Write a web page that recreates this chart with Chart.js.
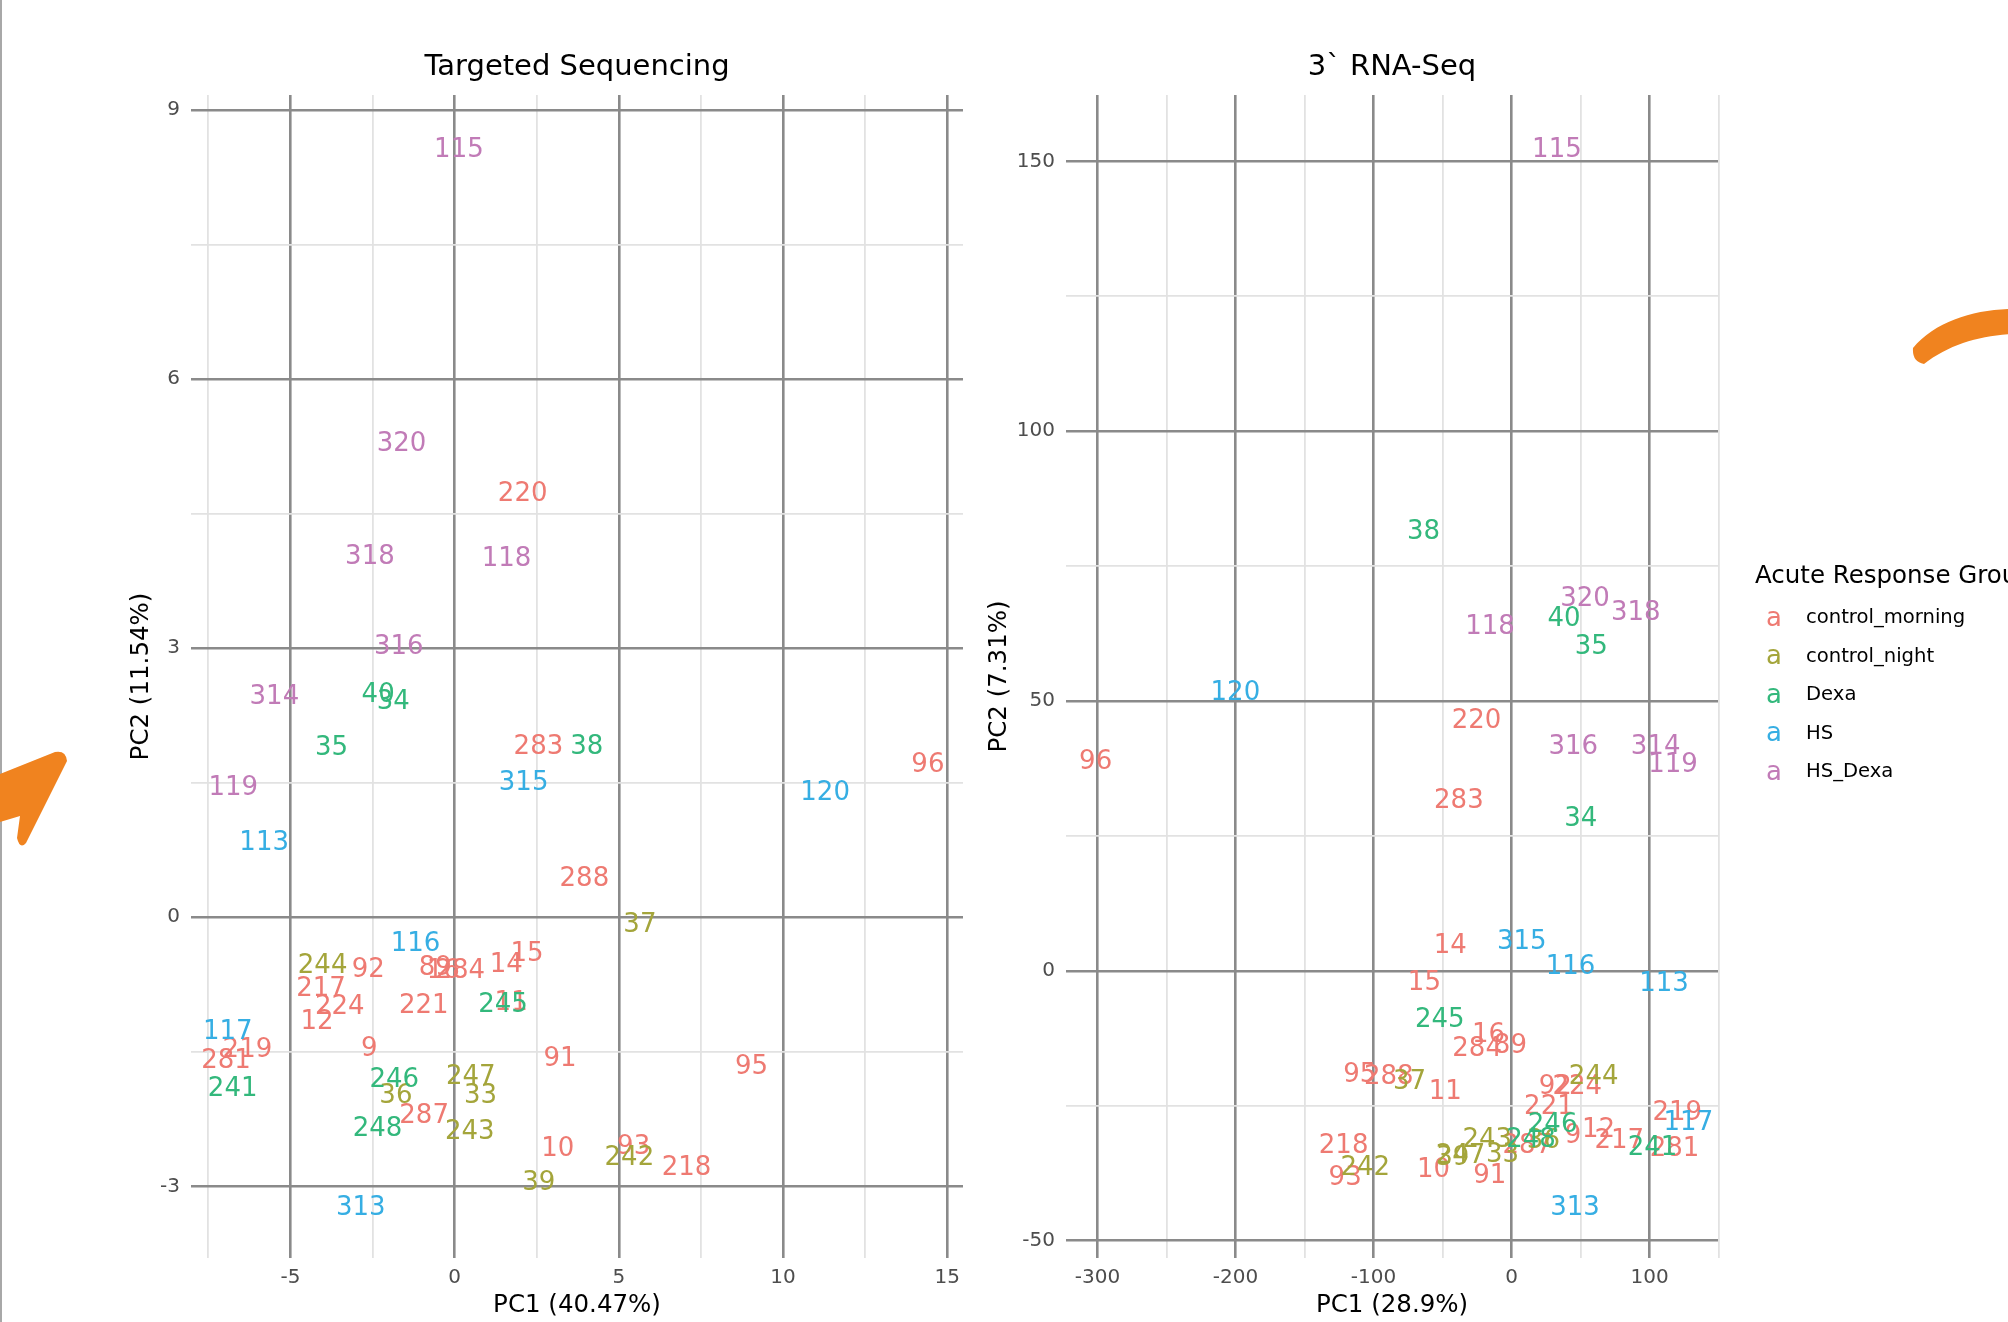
<!DOCTYPE html>
<html>
<head>
<meta charset="utf-8">
<script src="https://cdn.jsdelivr.net/npm/chart.js@4.4.1/dist/chart.umd.min.js"></script>
<style>
  body { margin: 0; width: 2008px; height: 1322px; overflow: hidden; background: #fff; position: relative; font-family: "DejaVu Sans", sans-serif; }
  #ts { position: absolute; left: 0; top: 0; }
  #rna { position: absolute; left: 980px; top: 0; }
  #edge { position: absolute; left: 0; top: 0; width: 2px; height: 1322px; background: #a8a8a8; }
  #legend { position: absolute; left: 0; top: 0; white-space: nowrap; }
  #legend div { position: absolute; white-space: nowrap; line-height: 30px; }
  #deco { position: absolute; left: 0; top: 0; pointer-events: none; }
</style>
</head>
<body>
<canvas id="ts" width="980" height="1322"></canvas>
<canvas id="rna" width="1028" height="1322"></canvas>
<div id="legend"></div>
<div id="edge"></div>
<svg id="deco" width="2008" height="1322">
  <path d="M0,774 L55,752 Q66,750 67,761 L26,843 Q20,850 17,838 L20,816 L0,822 Z" fill="#f0831f"/>
  <path d="M1913,348 C1935,322 1972,310 2010,309 L2010,334 C1978,336 1948,345 1924,364 Q1912,362 1913,348 Z" fill="#f0831f"/>
</svg>
<script>
const groups = ['control_morning', 'control_night', 'Dexa', 'HS', 'HS_Dexa'];
const groupColors = ['#ee7a72', '#a4a53b', '#33b87c', '#36aee3', '#c17bb7'];

// sample labels per group
const idsMorning = ['220', '283', '96', '288', '92', '89', '16', '284', '14', '15', '11', '217', '224', '221', '12', '9', '219', '281', '91', '95', '287', '10', '93', '218'];
const idsNight = ['244', '37', '247', '36', '33', '243', '39', '242'];
const idsDexa = ['40', '34', '35', '38', '245', '241', '246', '248'];
const idsHS = ['315', '120', '113', '116', '117', '313'];
const idsHSDexa = ['115', '320', '318', '118', '316', '314', '119'];

// Targeted Sequencing: [PC1, PC2]
const tsMorning = [[2.07, 4.75], [2.55, 1.93], [14.41, 1.73], [3.95, 0.45], [-2.63, -0.56], [-0.59, -0.54], [-0.35, -0.57], [0.17, -0.57], [1.57, -0.5], [2.2, -0.38], [1.72, -0.93], [-4.07, -0.77], [-3.5, -0.97], [-0.94, -0.96], [-4.19, -1.14], [-2.6, -1.44], [-6.31, -1.45], [-6.96, -1.57], [3.21, -1.55], [9.04, -1.64], [-0.93, -2.19], [3.14, -2.56], [5.45, -2.53], [7.06, -2.77]];
const tsNight = [[-4.02, -0.51], [5.64, -0.06], [0.49, -1.75], [-1.79, -1.96], [0.79, -1.97], [0.46, -2.37], [2.56, -2.93], [5.32, -2.66]];
const tsDexa = [[-2.33, 2.51], [-1.87, 2.43], [-3.75, 1.91], [4.02, 1.93], [1.47, -0.95], [-6.76, -1.89], [-1.84, -1.79], [-2.35, -2.33]];
const tsHS = [[2.1, 1.52], [11.28, 1.41], [-5.8, 0.86], [-1.19, -0.27], [-6.91, -1.25], [-2.86, -3.21]];
const tsHSDexa = [[0.13, 8.58], [-1.62, 5.31], [-2.58, 4.05], [1.58, 4.02], [-1.7, 3.04], [-5.49, 2.48], [-6.74, 1.47]];

// 3` RNA-Seq: [PC1, PC2]
const rnaMorning = [[-25.4, 46.7], [-38.2, 32], [-301.3, 39.2], [-89, -19.2], [31.6, -21.1], [-0.9, -13.5], [-16.7, -11.4], [-25, -14], [-44.4, 5.1], [-63.2, -1.7], [-48, -22], [78, -31], [47.5, -21], [27, -24.7], [63, -29], [44.5, -30.2], [120, -25.9], [118, -32.5], [-15.8, -37.5], [-110, -18.8], [11.4, -32], [-56.6, -36.4], [-120.6, -38], [-121.7, -31.9]];
const rnaNight = [[59.4, -19.2], [-74, -20.2], [-37, -33.8], [23, -31], [-6.6, -33.6], [-17.6, -30.9], [-42.7, -34.2], [-106, -36.1]];
const rnaDexa = [[37.9, 65.7], [50, 28.6], [57.7, 60.4], [-63.8, 81.7], [-52, -8.6], [102, -32.3], [29.7, -28], [14, -30.9]];
const rnaHS = [[7.4, 5.9], [-200.1, 51.9], [110.4, -1.9], [42.7, 1.1], [128, -27.8], [45.9, -43.4]];
const rnaHSDexa = [[32.8, 152.5], [53.1, 69.4], [89.9, 66.7], [-15.7, 64.2], [44.7, 42], [104.3, 42], [116.9, 38.6]];

// grid breaks
const tsXMajor = [-5, 0, 5, 10, 15];
const tsXMinor = [-7.5, -2.5, 2.5, 7.5, 12.5];
const tsYMajor = [-3, 0, 3, 6, 9];
const tsYMinor = [-1.5, 1.5, 4.5, 7.5];
const rnaXMajor = [-300, -200, -100, 0, 100];
const rnaXMinor = [-250, -150, -50, 50, 150];
const rnaYMajor = [-50, 0, 50, 100, 150];
const rnaYMinor = [-25, 25, 75, 125];

const allIds = [idsMorning, idsNight, idsDexa, idsHS, idsHSDexa];
const tsAll = [tsMorning, tsNight, tsDexa, tsHS, tsHSDexa];
const rnaAll = [rnaMorning, rnaNight, rnaDexa, rnaHS, rnaHSDexa];

const FONT = 'DejaVu Sans';
const LABEL_SIZE = 26;
Chart.defaults.font.family = FONT;

// like ggplot: 5% expansion of the data range
function expandRange(sets, k) {
  var vals = [];
  sets.forEach(function (s) { s.forEach(function (p) { vals.push(p[k]); }); });
  var lo = Math.min.apply(null, vals), hi = Math.max.apply(null, vals);
  var pad = (hi - lo) * 0.05;
  return [lo - pad, hi + pad];
}

function makeScale(range, major, minor, title, o) {
  return {
    type: 'linear',
    min: range[0],
    max: range[1],
    afterBuildTicks: function (s) {
      s.ticks = major.concat(minor).sort(function (a, b) { return a - b; }).map(function (v) { return { value: v }; });
    },
    afterFit: function (s) {
      if (o.w) s.width = o.w;
      if (o.h) s.height = o.h;
    },
    grid: {
      drawTicks: false,
      color: function (c) { return c.tick && major.includes(c.tick.value) ? '#8a8a8a' : '#e2e2e2'; },
      lineWidth: function (c) { return c.tick && major.includes(c.tick.value) ? 2.6 : 1.8; }
    },
    border: { display: false },
    ticks: {
      autoSkip: false,
      maxRotation: 0,
      padding: o.pad,
      color: '#4d4d4d',
      font: { size: 20 },
      callback: function (v) { return major.includes(v) ? String(v) : ''; }
    },
    title: {
      display: true,
      text: title,
      color: '#000',
      font: { size: 24.5 },
      padding: o.tp
    }
  };
}

const textLabels = {
  id: 'textLabels',
  afterDatasetsDraw: function (chart) {
    var ctx = chart.ctx;
    ctx.save();
    ctx.font = LABEL_SIZE + 'px "' + FONT + '"';
    ctx.textAlign = 'center';
    ctx.textBaseline = 'alphabetic';
    chart.data.datasets.forEach(function (ds, i) {
      var meta = chart.getDatasetMeta(i);
      ctx.fillStyle = ds.labelColor;
      meta.data.forEach(function (pt, j) {
        ctx.fillText(ds.ids[j], pt.x, pt.y + LABEL_SIZE * 0.365);
      });
    });
    ctx.restore();
  }
};

function makeDatasets(sets) {
  return groups.map(function (g, i) {
    return {
      label: g,
      ids: allIds[i],
      labelColor: groupColors[i],
      data: sets[i].map(function (p) { return { x: p[0], y: p[1] }; }),
      pointRadius: 0,
      pointHoverRadius: 0
    };
  });
}

function makeChart(id, title, sets, xMajor, xMinor, yMajor, yMinor, xTitle, yTitle, lay) {
  return new Chart(document.getElementById(id), {
    type: 'scatter',
    data: { datasets: makeDatasets(sets) },
    options: {
      responsive: false,
      animation: false,
      events: [],
      layout: { padding: { left: 0, right: lay.right, top: 0, bottom: 0 } },
      plugins: {
        legend: { display: false },
        tooltip: { enabled: false },
        title: {
          display: true,
          text: title,
          fullSize: false,
          color: '#000',
          font: { size: 29, weight: 'normal' },
          padding: { top: 49.6, bottom: 10.6 }
        }
      },
      scales: {
        x: makeScale(expandRange(sets, 0), xMajor, xMinor, xTitle, { h: 64, pad: 8, tp: { top: 0, bottom: 1.3 } }),
        y: makeScale(expandRange(sets, 1), yMajor, yMinor, yTitle, { w: lay.yw, pad: 11, tp: { top: lay.ytp, bottom: 0 } })
      }
    },
    plugins: [textLabels]
  });
}

makeChart('ts', 'Targeted Sequencing', tsAll, tsXMajor, tsXMinor, tsYMajor, tsYMinor,
  'PC1 (40.47%)', 'PC2 (11.54%)', { right: 17, yw: 191, ytp: 126.5 });
makeChart('rna', '3` RNA-Seq', rnaAll, rnaXMajor, rnaXMinor, rnaYMajor, rnaYMinor,
  'PC1 (28.9%)', 'PC2 (7.31%)', { right: 290, yw: 86, ytp: 4.5 });

// legend, built from the group list
var legend = document.getElementById('legend');
var head = document.createElement('div');
head.textContent = 'Acute Response Group';
head.style.cssText = 'left:1755px;top:560px;font-size:24.5px;color:#000;';
legend.appendChild(head);
groups.forEach(function (g, i) {
  var cy = 618.5 + i * 38.5;
  var key = document.createElement('div');
  key.textContent = 'a';
  key.style.cssText = 'left:1766px;top:' + (cy - 17) + 'px;font-size:' + LABEL_SIZE + 'px;color:' + groupColors[i] + ';';
  var lab = document.createElement('div');
  lab.textContent = g;
  lab.style.cssText = 'left:1806px;top:' + (cy - 16.5) + 'px;font-size:19.6px;color:#000;';
  legend.appendChild(key);
  legend.appendChild(lab);
});
</script>
</body>
</html>
